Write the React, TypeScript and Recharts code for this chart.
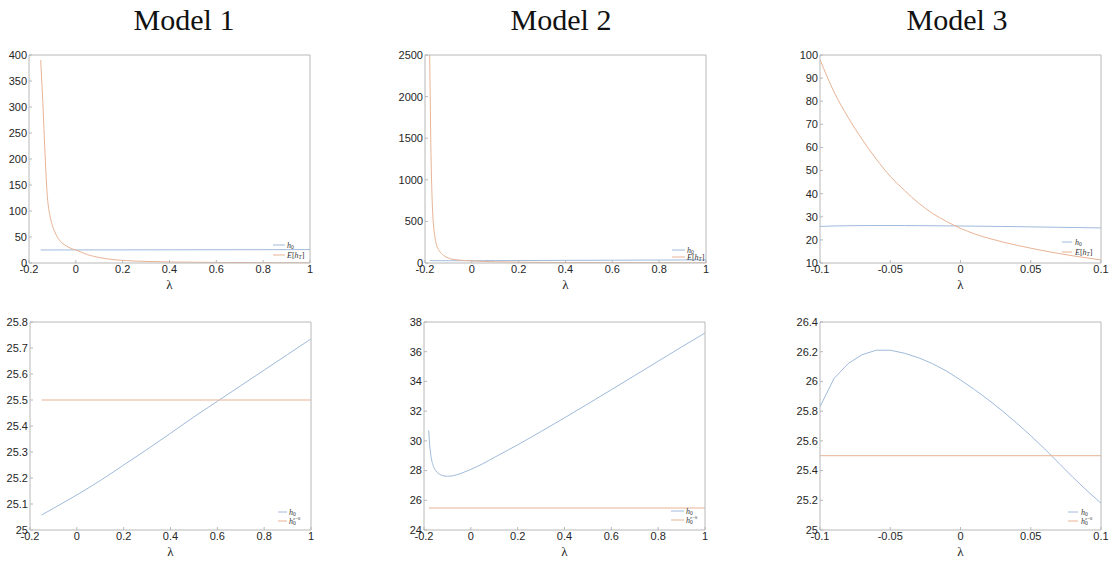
import React from 'react';
import { LineChart, Line, XAxis, YAxis, Legend } from 'recharts';

// ---------------- data ----------------
const titles = ['Model 1', 'Model 2', 'Model 3'];

// Model 1
const m1Lambda = [-0.15, -0.1, -0.05, 0, 0.1, 0.2, 0.3, 0.4, 0.5, 0.6, 0.7, 0.8, 0.9, 1];
const m1H0 = [25.058, 25.083, 25.109, 25.135, 25.19, 25.25, 25.31, 25.372, 25.435, 25.495, 25.555, 25.615, 25.675, 25.735];
const m1ELambda = [-0.15, -0.145, -0.14, -0.135, -0.13, -0.125, -0.12, -0.11, -0.1, -0.09, -0.08, -0.07, -0.06, -0.05, -0.04, -0.03, -0.02, -0.01, 0, 0.025, 0.05, 0.075, 0.1, 0.15, 0.2, 0.3, 0.4, 0.5, 0.6, 0.7, 0.8, 0.9, 1];
const m1EhT = [390, 345, 300, 245, 195, 150, 120, 90, 72, 60, 51, 44, 39, 35.5, 32.5, 30, 28, 26.4, 25, 20.5, 16, 13, 10.5, 7, 5, 3, 2, 1.5, 1.1, 0.9, 0.7, 0.6, 0.5];
const m1ZLambda = [-0.15, 1];
const m1Hz0 = [25.5, 25.5];

// Model 2
const m2Lambda = [-0.18, -0.175, -0.17, -0.16, -0.15, -0.14, -0.13, -0.12, -0.1, -0.09, -0.08, -0.06, -0.04, -0.02, 0, 0.05, 0.1, 0.2, 0.3, 0.4, 0.5, 0.6, 0.7, 0.8, 0.9, 1];
const m2H0 = [30.7, 29.6, 28.95, 28.3, 28.0, 27.82, 27.72, 27.66, 27.62, 27.62, 27.64, 27.72, 27.82, 27.95, 28.08, 28.45, 28.88, 29.73, 30.63, 31.55, 32.49, 33.44, 34.4, 35.36, 36.32, 37.26];
const m2ELambda = [-0.18, -0.178, -0.176, -0.174, -0.172, -0.17, -0.168, -0.165, -0.16, -0.155, -0.15, -0.14, -0.13, -0.12, -0.11, -0.1, -0.09, -0.07, -0.05, -0.03, 0, 0.05, 0.1, 0.2, 0.3, 0.4, 0.6, 0.8, 1];
const m2EhT = [2500, 2050, 1600, 1250, 1000, 800, 650, 500, 360, 270, 210, 150, 115, 90, 72, 60, 50, 40, 34, 30, 25, 19, 15, 10, 7.5, 6, 4.5, 3.5, 3];
const m2ZLambda = [-0.18, 1];
const m2Hz0 = [25.48, 25.48];

// Model 3
const m3Lambda = [-0.1, -0.09, -0.08, -0.07, -0.06, -0.05, -0.04, -0.03, -0.02, -0.01, 0, 0.01, 0.02, 0.03, 0.04, 0.05, 0.06, 0.07, 0.08, 0.09, 0.1];
const m3H0 = [25.83, 26.02, 26.12, 26.18, 26.21, 26.21, 26.19, 26.16, 26.12, 26.07, 26.01, 25.945, 25.875, 25.8, 25.72, 25.635, 25.545, 25.45, 25.355, 25.265, 25.18];
const m3EhT = [98, 84, 73, 63.5, 55, 47.5, 41.5, 36, 31.5, 28, 25, 22.6, 20.7, 19.1, 17.7, 16.4, 15.2, 14.1, 13.1, 12.2, 11.3];
const m3ZLambda = [-0.1, 0.1];
const m3Hz0 = [25.5, 25.5];

// axis ticks
const xTicksWide = [-0.2, 0, 0.2, 0.4, 0.6, 0.8, 1];
const xTicksNarrow = [-0.1, -0.05, 0, 0.05, 0.1];
const yTicksTL = [0, 50, 100, 150, 200, 250, 300, 350, 400];
const yTicksTM = [0, 500, 1000, 1500, 2000, 2500];
const yTicksTR = [10, 20, 30, 40, 50, 60, 70, 80, 90, 100];
const yTicksBL = [25, 25.1, 25.2, 25.3, 25.4, 25.5, 25.6, 25.7, 25.8];
const yTicksBM = [24, 26, 28, 30, 32, 34, 36, 38];
const yTicksBR = [25, 25.2, 25.4, 25.6, 25.8, 26, 26.2, 26.4];

// ---------------- styles ----------------
const FRAME = '#b8b8b8';
const TEXT = '#262626';
const BLUE = '#9fbadb';
const ORANGE = '#e8b394';
const SANS = '"Liberation Sans", Arial, Helvetica, sans-serif';
const SERIF = '"Liberation Serif", "Times New Roman", serif';
const titleCenters = [184, 561, 957];

const pairs = (xs: number[], ys: number[]) => xs.map((x, i) => ({ x, y: ys[i] }));

type Kind = 'h0' | 'EhT' | 'hz0';
type Series = { data: { x: number; y: number }[]; color: string; curve: 'linear' | 'monotone' };
type LegendSpec = { from: number; to: number; text: number; rows: [number, number]; kinds: [Kind, Kind] };
type PanelSpec = {
  left: number;
  top: number;
  xDomain: [number, number];
  xTicks: number[];
  yDomain: [number, number];
  yTicks: number[];
  series: Series[];
  legend: LegendSpec;
};

const panels: PanelSpec[] = [
  {
    left: 29, top: 55, xDomain: [-0.2, 1], xTicks: xTicksWide, yDomain: [0, 400], yTicks: yTicksTL,
    series: [
      { data: pairs(m1Lambda, m1H0), color: BLUE, curve: 'monotone' },
      { data: pairs(m1ELambda, m1EhT), color: ORANGE, curve: 'monotone' },
    ],
    legend: { from: 37, to: 25, text: 23, rows: [18, 8], kinds: ['h0', 'EhT'] },
  },
  {
    left: 425, top: 55, xDomain: [-0.2, 1], xTicks: xTicksWide, yDomain: [0, 2500], yTicks: yTicksTM,
    series: [
      { data: pairs(m2Lambda, m2H0), color: BLUE, curve: 'monotone' },
      { data: pairs(m2ELambda, m2EhT), color: ORANGE, curve: 'monotone' },
    ],
    legend: { from: 34, to: 21, text: 19, rows: [13, 6], kinds: ['h0', 'EhT'] },
  },
  {
    left: 820, top: 55, xDomain: [-0.1, 0.1], xTicks: xTicksNarrow, yDomain: [10, 100], yTicks: yTicksTR,
    series: [
      { data: pairs(m3Lambda, m3H0), color: BLUE, curve: 'linear' },
      { data: pairs(m3Lambda, m3EhT), color: ORANGE, curve: 'monotone' },
    ],
    legend: { from: 39, to: 29, text: 26, rows: [21, 11], kinds: ['h0', 'EhT'] },
  },
  {
    left: 30, top: 322, xDomain: [-0.2, 1], xTicks: xTicksWide, yDomain: [25, 25.8], yTicks: yTicksBL,
    series: [
      { data: pairs(m1Lambda, m1H0), color: BLUE, curve: 'monotone' },
      { data: pairs(m1ZLambda, m1Hz0), color: ORANGE, curve: 'linear' },
    ],
    legend: { from: 33, to: 24, text: 22, rows: [18, 9], kinds: ['h0', 'hz0'] },
  },
  {
    left: 424, top: 322, xDomain: [-0.2, 1], xTicks: xTicksWide, yDomain: [24, 38], yTicks: yTicksBM,
    series: [
      { data: pairs(m2Lambda, m2H0), color: BLUE, curve: 'monotone' },
      { data: pairs(m2ZLambda, m2Hz0), color: ORANGE, curve: 'linear' },
    ],
    legend: { from: 34, to: 21, text: 19, rows: [19, 10], kinds: ['h0', 'hz0'] },
  },
  {
    left: 820, top: 322, xDomain: [-0.1, 0.1], xTicks: xTicksNarrow, yDomain: [25, 26.4], yTicks: yTicksBR,
    series: [
      { data: pairs(m3Lambda, m3H0), color: BLUE, curve: 'linear' },
      { data: pairs(m3ZLambda, m3Hz0), color: ORANGE, curve: 'linear' },
    ],
    legend: { from: 33, to: 23, text: 20, rows: [18, 9], kinds: ['h0', 'hz0'] },
  },
];

const PLOT_W = 281;
const PLOT_H = 208;
const ML = 45;
const MT = 10;
const MR = 10;
const MB = 45;
const MIRROR = 1; // size reserved by the top / right frame axes
const CW = ML + PLOT_W + MR;
const CH = MT + PLOT_H + MB;
const LW = 46;
const LH = 28;

function LegendText({ kind, x, y }: { kind: Kind; x: number; y: number }) {
  const common = { x, y, fontFamily: SERIF, fontSize: 8, fill: '#333' };
  if (kind === 'h0') {
    return (
      <text {...common}>
        <tspan fontStyle="italic">h</tspan>
        <tspan fontSize={5.5} dy={1.8}>0</tspan>
      </text>
    );
  }
  if (kind === 'EhT') {
    return (
      <text {...common}>
        <tspan fontStyle="italic">E</tspan>
        <tspan>[</tspan>
        <tspan fontStyle="italic">h</tspan>
        <tspan fontSize={5.5} fontStyle="italic" dy={1.8}>T</tspan>
        <tspan dy={-1.8}>]</tspan>
      </text>
    );
  }
  return (
    <text {...common}>
      <tspan fontStyle="italic">h</tspan>
      <tspan fontSize={5.5} dy={1.8}>0</tspan>
      <tspan fontSize={5} fontStyle="italic" dx={-2.8} dy={-5}>z</tspan>
      <tspan fontSize={5}>=0</tspan>
    </text>
  );
}

function MiniLegend({ spec, colors }: { spec: LegendSpec; colors: string[] }) {
  return (
    <svg width={LW} height={LH} style={{ display: 'block', overflow: 'visible' }}>
      {spec.rows.map((r, i) => (
        <g key={i}>
          <line x1={LW - spec.from} x2={LW - spec.to} y1={LH - r} y2={LH - r} stroke={colors[i]} strokeWidth={1} />
          <LegendText kind={spec.kinds[i]} x={LW - spec.text} y={LH - r + 2.5} />
        </g>
      ))}
    </svg>
  );
}

function Panel({ spec }: { spec: PanelSpec }) {
  const tickStyle = { fill: TEXT, fontSize: 11, fontFamily: SANS };
  const colors = spec.series.map((s) => s.color);
  return (
    <div style={{ position: 'absolute', left: spec.left - ML, top: spec.top - MT, width: CW, height: CH }}>
      <LineChart width={CW} height={CH} margin={{ top: MT - MIRROR, right: MR - MIRROR, bottom: 0, left: 0 }}>
        <XAxis
          xAxisId="b"
          dataKey="x"
          type="number"
          domain={spec.xDomain}
          ticks={spec.xTicks}
          interval={0}
          allowDataOverflow
          height={MB}
          tickSize={-3}
          tickMargin={5}
          stroke={FRAME}
          tick={tickStyle}
          label={{ value: 'λ', position: 'insideBottom', offset: 19, fill: TEXT, fontSize: 13, fontFamily: SERIF }}
        />
        <XAxis
          xAxisId="t"
          orientation="top"
          dataKey="x"
          type="number"
          domain={spec.xDomain}
          ticks={spec.xTicks}
          interval={0}
          allowDataOverflow
          height={MIRROR}
          tickSize={-3}
          tick={false}
          stroke={FRAME}
        />
        <YAxis
          yAxisId="l"
          type="number"
          domain={spec.yDomain}
          ticks={spec.yTicks}
          interval={0}
          allowDataOverflow
          width={ML}
          tickSize={-3}
          tickMargin={5}
          stroke={FRAME}
          tick={tickStyle}
        />
        <YAxis
          yAxisId="r"
          orientation="right"
          type="number"
          domain={spec.yDomain}
          ticks={spec.yTicks}
          interval={0}
          allowDataOverflow
          width={MIRROR}
          tickSize={-3}
          tick={false}
          stroke={FRAME}
        />
        {/* invisible series bound to the mirrored axes so the box frame is drawn */}
        <Line
          xAxisId="t"
          yAxisId="r"
          data={spec.series[0].data}
          dataKey="y"
          stroke="none"
          strokeOpacity={0}
          dot={false}
          activeDot={false}
          legendType="none"
          isAnimationActive={false}
        />
        {spec.series.map((s, i) => (
          <Line
            key={i}
            xAxisId="b"
            yAxisId="l"
            data={s.data}
            dataKey="y"
            type={s.curve}
            stroke={s.color}
            strokeWidth={1}
            dot={false}
            activeDot={false}
            isAnimationActive={false}
          />
        ))}
        <Legend
          layout="horizontal"
          verticalAlign="middle"
          align="center"
          width={LW}
          height={LH}
          wrapperStyle={{ left: ML + PLOT_W - LW, top: MT + PLOT_H - LH, width: LW, height: LH }}
          content={() => <MiniLegend spec={spec.legend} colors={colors} />}
        />
      </LineChart>
    </div>
  );
}

export default function App() {
  return (
    <div style={{ position: 'absolute', left: 0, top: 0, width: 1115, height: 561, background: '#fff', overflow: 'hidden' }}>
      {titles.map((t, i) => (
        <div
          key={t}
          style={{
            position: 'absolute',
            left: titleCenters[i] - 100,
            top: 5,
            width: 200,
            textAlign: 'center',
            fontFamily: SERIF,
            fontSize: 30,
            lineHeight: '30px',
            color: '#111',
          }}
        >
          {t}
        </div>
      ))}
      {panels.map((p, i) => (
        <Panel key={i} spec={p} />
      ))}
    </div>
  );
}
